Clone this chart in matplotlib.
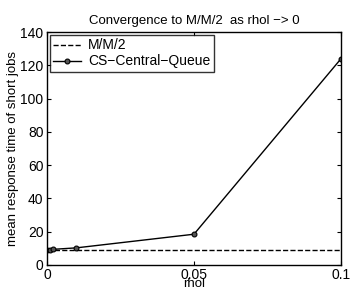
import matplotlib
matplotlib.use("Agg")
import matplotlib.pyplot as plt

plt.rcParams['font.family'] = ['Liberation Sans', 'DejaVu Sans']

rhol = [0, 0.001, 0.002, 0.01, 0.05, 0.1]
cs_central = [9.2, 9.3, 9.4, 10.3, 18.5, 124]
mm2_x = [0, 0.1]
mm2_y = [9.0, 9.0]

fig = plt.figure(figsize=(3.53, 2.92), dpi=100)
ax = fig.add_axes([0.133, 0.0925, 0.833, 0.7975])

ax.plot(mm2_x, mm2_y, 'k--', lw=1, label='M/M/2')
ax.plot(rhol, cs_central, 'k-', lw=1, marker='o', ms=3.5, mfc='#555555',
        mec='k', mew=0.8, label='CS\u2212Central\u2212Queue')

ax.set_xlim(0, 0.1)
ax.set_ylim(0, 140)
ax.set_xticks([0, 0.05, 0.1])
ax.set_xticklabels(['0', '0.05', '0.1'])
ax.set_yticks([0, 20, 40, 60, 80, 100, 120, 140])
ax.tick_params(direction='in', top=True, right=True, labelsize=10, length=3)
ax.tick_params(axis='x', pad=2)
ax.tick_params(axis='y', pad=2.5)
for s in ax.spines.values():
    s.set_linewidth(1)

ax.set_xlabel('rhol', fontsize=9.5, labelpad=-2.5)
ax.set_ylabel('mean response time of short jobs', fontsize=9.5, labelpad=1)
ax.set_title('Convergence to M/M/2  as rhol \u2212> 0', fontsize=9.5, pad=6)

leg = ax.legend(loc='upper left', fontsize=10, frameon=True, fancybox=False,
                edgecolor='k', borderpad=0.25, handlelength=2.0, labelspacing=0.15,
                borderaxespad=0.2, handletextpad=0.5)
leg.get_frame().set_linewidth(1)

fig.savefig('out.png', dpi=100)
